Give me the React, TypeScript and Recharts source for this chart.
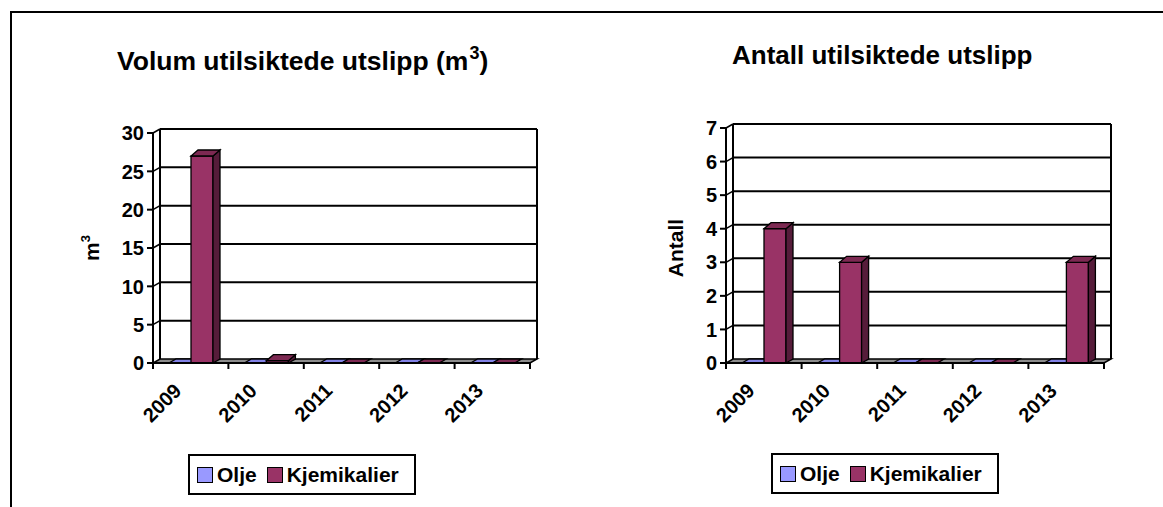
import React from 'react';
import { BarChart, Bar, XAxis, YAxis, CartesianGrid, Legend } from 'recharts';

// data
const years = ['2009', '2010', '2011', '2012', '2013'];
const seriesNames = ['Olje', 'Kjemikalier'];
const volumOlje = [0, 0, 0, 0, 0];
const volumKjemikalier = [27, 0.3, 0, 0, 0];
const volumTicks = [0, 5, 10, 15, 20, 25, 30];
const antallOlje = [0, 0, 0, 0, 0];
const antallKjemikalier = [4, 3, 0, 0, 3];
const antallTicks = [0, 1, 2, 3, 4, 5, 6, 7];

const FONT = 'Arial, "Liberation Sans", Helvetica, sans-serif';
const DX = 7;
const DY = -4;
const BAR_DY = -6;

const OLJE = { front: '#9999ff', top: '#8282e6', side: '#5c5c99' };
const KJEM = { front: '#993366', top: '#7d2952', side: '#561c3a' };

const volumData = years.map((y, i) => ({ year: y, Olje: volumOlje[i], Kjemikalier: volumKjemikalier[i] }));
const antallData = years.map((y, i) => ({ year: y, Olje: antallOlje[i], Kjemikalier: antallKjemikalier[i] }));

function makeBarShape(c: { front: string; top: string; side: string }) {
  return (props: any) => {
    const { x, y, width, height } = props;
    if (x == null || width == null || y == null) return <g />;
    const h = Math.max(0, height || 0);
    const dy = h > 0.5 ? BAR_DY : DY;
    const topPts = `${x},${y} ${x + width},${y} ${x + width + DX},${y + dy} ${x + DX},${y + dy}`;
    const sidePts = `${x + width},${y} ${x + width + DX},${y + dy} ${x + width + DX},${y + h + DY} ${x + width},${y + h}`;
    return (
      <g>
        {h > 0.5 && <rect x={x} y={y} width={width} height={h} fill={c.front} stroke="#000" strokeWidth={1.3} />}
        {h > 0.5 && <polygon points={sidePts} fill={c.side} stroke="#000" strokeWidth={1.3} />}
        <polygon points={topPts} fill={c.top} stroke="#000" strokeWidth={1.3} />
      </g>
    );
  };
}

function makeGridLine(top: number, bottom: number) {
  return (props: any) => {
    const { x1, x2, y1 } = props;
    const isBottom = Math.abs(y1 - bottom) < 1.5;
    const isTop = Math.abs(y1 - top) < 1.5;
    return (
      <g key={`gl-${y1}`}>
        {isBottom && (
          <polygon
            points={`${x1},${y1} ${x2},${y1} ${x2 + DX},${y1 + DY} ${x1 + DX},${y1 + DY}`}
            fill="#8c8c8c"
            stroke="#000"
            strokeWidth={1.5}
          />
        )}
        {!isBottom && <line x1={x1} y1={y1} x2={x1 + DX} y2={y1 + DY} stroke="#000" strokeWidth={1.5} />}
        {!isBottom && <line x1={x1 + DX} y1={y1 + DY} x2={x2 + DX} y2={y1 + DY} stroke="#000" strokeWidth={2} />}
        {isTop && (
          <g>
            <line x1={x1 + DX} y1={y1 + DY} x2={x1 + DX} y2={bottom + DY} stroke="#000" strokeWidth={2} />
            <line x1={x2 + DX} y1={y1 + DY} x2={x2 + DX} y2={bottom + DY} stroke="#000" strokeWidth={2} />
          </g>
        )}
      </g>
    );
  };
}

const YTick = (props: any) => {
  const { x, y, payload } = props;
  return (
    <text x={x - 1} y={y} dy="0.36em" textAnchor="end" fontFamily={FONT} fontWeight="bold" fontSize={20} fill="#000">
      {payload.value}
    </text>
  );
};

function makeXTick(bottom: number, half: number, count: number) {
  return (props: any) => {
    const { x, payload, index } = props;
    const ax = x - 8;
    const ay = bottom + 29;
    return (
      <g>
        <line x1={x - half} y1={bottom} x2={x - half} y2={bottom + 6} stroke="#000" strokeWidth={2} />
        {index === count - 1 && <line x1={x + half} y1={bottom} x2={x + half} y2={bottom + 6} stroke="#000" strokeWidth={2} />}
        <text x={ax} y={ay} transform={`rotate(-45, ${ax}, ${ay})`} textAnchor="end" fontFamily={FONT} fontWeight="bold" fontSize={20} fill="#000">
          {payload.value}
        </text>
      </g>
    );
  };
}

const LegendBox = (props: any) => {
  const items = [...(props.payload || [])].sort(
    (a: any, b: any) => seriesNames.indexOf(a.value) - seriesNames.indexOf(b.value)
  );
  return (
    <div
      style={{
        border: '2px solid #000',
        background: '#fff',
        width: 228,
        height: 41,
        boxSizing: 'border-box',
        display: 'flex',
        alignItems: 'center',
        paddingLeft: 7,
        fontFamily: FONT,
        fontWeight: 'bold',
        fontSize: 21,
        color: '#000',
      }}
    >
      {items.map((it: any) => (
        <span key={it.value} style={{ display: 'flex', alignItems: 'center', marginRight: 10 }}>
          <span style={{ display: 'inline-block', width: 14, height: 14, background: it.color, border: '1.5px solid #000', marginRight: 4 }} />
          {it.value}
        </span>
      ))}
    </div>
  );
};

interface PanelProps {
  data: any[];
  ticks: number[];
  left: number;
  width: number;
  frontTop: number;
  frontRight: number;
  legendLeft: number;
  legendTop: number;
  yLabel: React.ReactNode;
  yLabelX: number;
}

const FRONT_LEFT = 153;
const FRONT_BOTTOM = 363;
const HEIGHT = 507;

function Panel(p: PanelProps) {
  const half = (p.frontRight - FRONT_LEFT) / years.length / 2;
  return (
    <div style={{ position: 'absolute', left: p.left, top: 0 }}>
      <BarChart
        width={p.width}
        height={HEIGHT}
        data={p.data}
        margin={{ top: p.frontTop, right: p.width - p.frontRight, bottom: HEIGHT - FRONT_BOTTOM - 100, left: 0 }}
        barCategoryGap={16}
        barGap={0}
      >
        <CartesianGrid vertical={false} stroke="#000" horizontal={makeGridLine(p.frontTop, FRONT_BOTTOM)} />
        <XAxis
          dataKey="year"
          height={100}
          interval={0}
          tickLine={false}
          axisLine={{ stroke: '#000', strokeWidth: 2 }}
          tick={makeXTick(FRONT_BOTTOM, half, years.length)}
        />
        <YAxis
          width={FRONT_LEFT}
          domain={[0, p.ticks[p.ticks.length - 1]]}
          ticks={p.ticks}
          interval={0}
          tickSize={6}
          tickLine={{ stroke: '#000', strokeWidth: 2 }}
          axisLine={{ stroke: '#000', strokeWidth: 2 }}
          tick={YTick}
          label={() => (
            <text
              x={p.yLabelX}
              y={248}
              transform={`rotate(-90, ${p.yLabelX}, 248)`}
              textAnchor="middle"
              fontFamily={FONT}
              fontWeight="bold"
              fontSize={21}
              fill="#000"
            >
              {p.yLabel}
            </text>
          )}
        />
        <Legend
          layout="vertical"
          align="center"
          verticalAlign="middle"
          wrapperStyle={{ position: 'absolute', left: p.legendLeft, top: p.legendTop, width: 'auto', height: 'auto' }}
          content={LegendBox}
        />
        <Bar dataKey="Olje" fill={OLJE.front} shape={makeBarShape(OLJE)} isAnimationActive={false} />
        <Bar dataKey="Kjemikalier" fill={KJEM.front} shape={makeBarShape(KJEM)} isAnimationActive={false} />
      </BarChart>
    </div>
  );
}

export default function App() {
  const titleStyle: React.CSSProperties = {
    position: 'absolute',
    fontFamily: FONT,
    fontWeight: 'bold',
    fontSize: 26,
    lineHeight: '30px',
    whiteSpace: 'nowrap',
    color: '#000',
  };
  return (
    <div style={{ position: 'absolute', left: 0, top: 0, width: 1163, height: 507, background: '#fff', overflow: 'hidden' }}>
      <div
        style={{
          position: 'absolute',
          left: 10,
          top: 11,
          width: 1160,
          height: 510,
          borderTop: '2px solid #000',
          borderLeft: '2px solid #000',
        }}
      />
      <div style={{ ...titleStyle, fontSize: 26.5, left: 117, top: 46 }}>
        Volum utilsiktede utslipp (m<span style={{ fontSize: 18, position: 'relative', top: -11, marginLeft: 1 }}>3</span>)
      </div>
      <div style={{ ...titleStyle, left: 732, top: 40 }}>Antall utilsiktede utslipp</div>
      <Panel
        data={volumData}
        ticks={volumTicks}
        left={0}
        width={580}
        frontTop={133}
        frontRight={530}
        legendLeft={188}
        legendTop={454}
        yLabelX={99}
        yLabel={
          <>
            m<tspan dy={-9} fontSize={13}>3</tspan>
          </>
        }
      />
      <Panel
        data={antallData}
        ticks={antallTicks}
        left={573}
        width={590}
        frontTop={128}
        frontRight={531}
        legendLeft={198}
        legendTop={453}
        yLabelX={110}
        yLabel="Antall"
      />
    </div>
  );
}
